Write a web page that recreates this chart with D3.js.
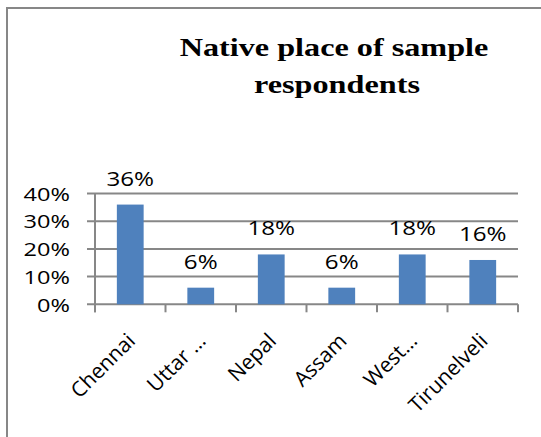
<!DOCTYPE html>
<html><head><meta charset="utf-8">
<script src="https://cdn.jsdelivr.net/npm/d3@7/dist/d3.min.js"></script>
<style>html,body{margin:0;padding:0;background:#fff;} svg{display:block;}</style>
</head><body>
<script>
const categories = ["Chennai", "Uttar \u2026", "Nepal", "Assam", "West\u2026", "Tirunelveli"];
const values = [0.36, 0.06, 0.18, 0.06, 0.18, 0.16];
const yTicks = [0, 0.1, 0.2, 0.3, 0.4];
const titleLines = ["Native place of sample", "respondents"];

const W = 541, H = 437;
const SX = 1.24; // the reference picture is stretched horizontally
const ix = px => px / SX;

const svg = d3.select("body").append("svg").attr("width", W).attr("height", H)
  .style("background", "#fff");
const g = svg.append("g").attr("transform", `scale(${SX},1)`);
const grey = "#878787";

// chart border (left and top edges visible)
g.append("path")
  .attr("d", `M${ix(7)},${H + 5} L${ix(7)},8 L${ix(W + 5)},8`)
  .attr("fill", "none").attr("stroke", grey).attr("stroke-width", 2)
  .attr("vector-effect", "non-scaling-stroke");

// title
const title = g.append("text")
  .attr("text-anchor", "middle")
  .attr("font-family", "'Liberation Serif', 'Times New Roman', serif")
  .attr("font-weight", "bold").attr("font-size", 26).attr("fill", "#000");
title.append("tspan").attr("x", ix(334)).attr("y", 56).text(titleLines[0]);
title.append("tspan").attr("x", ix(337)).attr("y", 93).text(titleLines[1]);

const x = d3.scaleBand().domain(categories).range([ix(95), ix(518)])
  .paddingInner(0.62).paddingOuter(0.31);
const y = d3.scaleLinear().domain([0, 0.4]).range([304.3, 193.5]);
const font = "'Open Sans', 'Noto Sans', sans-serif";

// gridlines with left tick marks
g.append("g").selectAll("line").data(yTicks).join("line")
  .attr("x1", ix(87)).attr("x2", ix(518))
  .attr("y1", d => y(d)).attr("y2", d => y(d))
  .attr("stroke", grey).attr("stroke-width", 2)
  .attr("vector-effect", "non-scaling-stroke");

// y axis line
g.append("line").attr("x1", ix(95)).attr("x2", ix(95))
  .attr("y1", y(0.4)).attr("y2", y(0) + 8)
  .attr("stroke", grey).attr("stroke-width", 2)
  .attr("vector-effect", "non-scaling-stroke");

// x tick marks between categories
const bounds = categories.map(c => x(c) - x.step() * x.paddingInner() / 2);
bounds.push(x.range()[1]);
g.append("g").selectAll("line").data(bounds).join("line")
  .attr("x1", d => d).attr("x2", d => d)
  .attr("y1", y(0)).attr("y2", y(0) + 8)
  .attr("stroke", grey).attr("stroke-width", 2)
  .attr("vector-effect", "non-scaling-stroke");

// y tick labels
const fmt = d3.format(".0%");
g.append("g").selectAll("text").data(yTicks).join("text")
  .attr("x", ix(70)).attr("y", d => y(d)).attr("dy", "0.38em")
  .attr("text-anchor", "end").attr("font-family", font).attr("font-size", 19)
  .attr("fill", "#000").text(d => fmt(d));

// bars
g.append("g").selectAll("rect").data(values).join("rect")
  .attr("x", (d, i) => x(categories[i])).attr("width", x.bandwidth())
  .attr("y", d => y(d)).attr("height", d => y(0) - y(d))
  .attr("fill", "#4F81BD");

// data labels
g.append("g").selectAll("text").data(values).join("text")
  .attr("x", (d, i) => x(categories[i]) + x.bandwidth() / 2)
  .attr("y", d => y(d) - 19)
  .attr("text-anchor", "middle").attr("font-family", font).attr("font-size", 19.5)
  .attr("fill", "#000").text(d => fmt(d));

// category labels, rotated -45° (drawn in unstretched space)
svg.append("g").selectAll("text").data(categories).join("text")
  .attr("transform", d => `translate(${(x(d) + x.bandwidth() / 2) * SX + 1},337) rotate(-45)`)
  .attr("dy", "0.35em").attr("text-anchor", "end")
  .attr("font-family", font).attr("font-size", 21).attr("fill", "#000")
  .text(d => d);
</script>
</body></html>
